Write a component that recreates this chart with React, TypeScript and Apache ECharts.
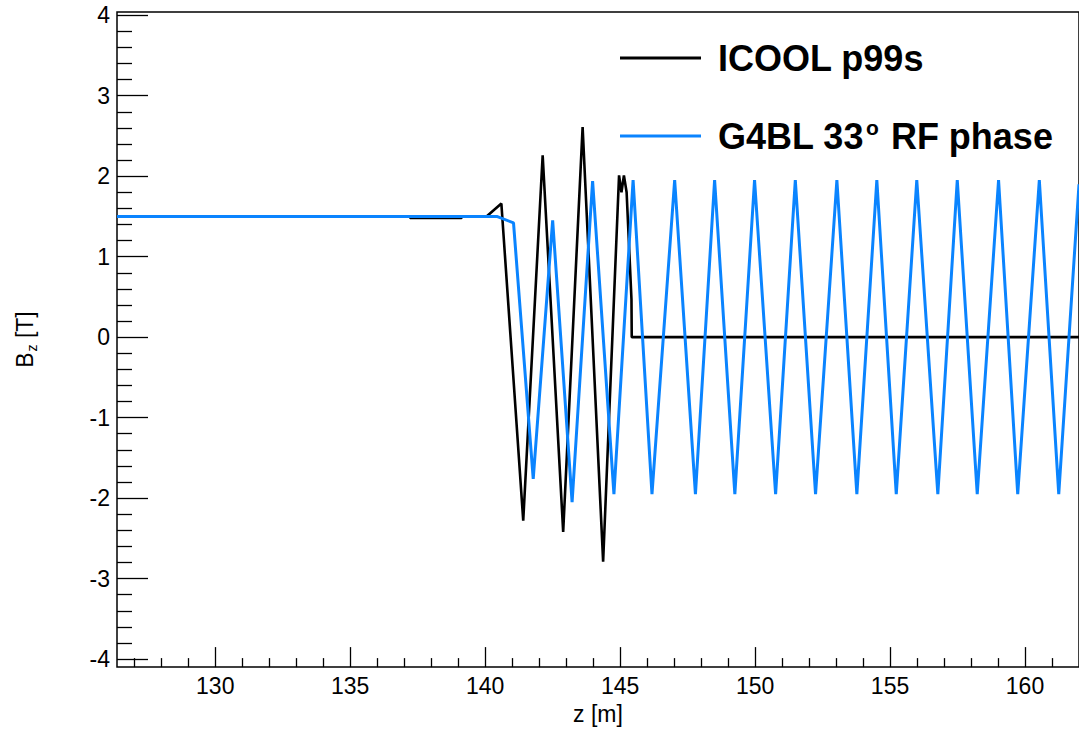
import React, { useEffect, useRef } from "react";
import * as echarts from "echarts";

// Axis ranges and tick positions
const X_MIN = 126.36;
const X_MAX = 162.0;
const Y_MIN = -4.1;
const Y_MAX = 4.04;
const X_MAJOR = [130, 135, 140, 145, 150, 155, 160];
const X_MINOR = [127, 128, 129, 131, 132, 133, 134, 136, 137, 138, 139, 141, 142, 143, 144, 146, 147, 148, 149, 151, 152, 153, 154, 156, 157, 158, 159, 161];
const Y_MAJOR = [-4, -3, -2, -1, 0, 1, 2, 3, 4];
const Y_MINOR = [
  -3.8, -3.6, -3.4, -3.2, -2.8, -2.6, -2.4, -2.2, -1.8, -1.6, -1.4, -1.2, -0.8, -0.6, -0.4, -0.2,
  0.2, 0.4, 0.6, 0.8, 1.2, 1.4, 1.6, 1.8, 2.2, 2.4, 2.6, 2.8, 3.2, 3.4, 3.6, 3.8,
];

// ICOOL p99s (black)
const icoolZ = [126.36, 137.22, 137.22, 139.13, 139.13, 140.05, 140.6, 141.41, 142.13, 142.89, 143.61, 144.37, 144.96, 145.05, 145.14, 145.24, 145.42, 145.43, 162.0];
const icoolBz = [1.5, 1.5, 1.48, 1.48, 1.5, 1.5, 1.66, -2.28, 2.26, -2.42, 2.61, -2.79, 2.01, 1.8, 2.01, 1.8, 0.47, 0.0, 0.0];

// G4BL 33° RF phase (blue)
const g4blZ = [
  126.36, 140.43, 141.05, 141.78, 142.5, 143.22, 143.98, 144.77, 145.48, 146.18, 147.02, 147.79, 148.5,
  149.25, 149.98, 150.76, 151.49, 152.24, 153.03, 153.77, 154.51, 155.23, 155.99, 156.77, 157.49,
  158.23, 159.02, 159.73, 160.53, 161.25, 162.0,
];
const g4blBz = [
  1.5, 1.5, 1.42, -1.76, 1.45, -2.05, 1.94, -1.95, 1.95, -1.95, 1.95, -1.95, 1.95,
  -1.95, 1.95, -1.95, 1.95, -1.95, 1.95, -1.95, 1.95, -1.95, 1.95, -1.95, 1.95,
  -1.95, 1.95, -1.95, 1.95, -1.95, 1.9,
];

const SERIES_A = "ICOOL p99s";
const SERIES_B = "G4BL 33° RF phase";
const FONT = "'Liberation Sans', Arial, Helvetica, sans-serif";
const BLUE = "#0a84ff";

export default function App() {
  const ref = useRef<HTMLDivElement>(null);

  useEffect(() => {
    if (!ref.current) return;
    const chart = echarts.init(ref.current, null, { renderer: "svg" });

    const baseX = {
      type: "value",
      min: X_MIN,
      max: X_MAX,
      gridIndex: 0,
      position: "bottom",
      axisLine: { show: false, onZero: false },
      splitLine: { show: false },
    };
    const baseY = {
      type: "value",
      min: Y_MIN,
      max: Y_MAX,
      gridIndex: 0,
      position: "left",
      axisLine: { show: false, onZero: false },
      splitLine: { show: false },
    };

    const legendText = {
      color: "#000",
      fontFamily: FONT,
      fontWeight: "bold",
      fontSize: 36,
      lineHeight: 40,
      padding: [0, 0, 0, 12],
    };

    const option = {
      animation: false,
      backgroundColor: "#ffffff",
      grid: {
        left: 117,
        top: 12,
        width: 963,
        height: 657,
        show: true,
        borderColor: "#000",
        borderWidth: 1.5,
        backgroundColor: "transparent",
      },
      legend: [
        {
          data: [SERIES_A],
          left: 620,
          top: 38,
          padding: 0,
          icon: "rect",
          itemWidth: 81,
          itemHeight: 3,
          textStyle: legendText,
        },
        {
          data: [SERIES_B],
          left: 620,
          top: 116,
          padding: 0,
          icon: "rect",
          itemWidth: 81,
          itemHeight: 3,
          formatter: () => "{t|G4BL 33}{sup|o}{t| RF phase}",
          textStyle: {
            ...legendText,
            rich: {
              t: { fontFamily: FONT, fontWeight: "bold", fontSize: 36, color: "#000", lineHeight: 40 },
              sup: { fontFamily: FONT, fontWeight: "bold", fontSize: 21, color: "#000", padding: [0, 2, 18, 2] },
            },
          },
        },
      ],
      xAxis: [
        {
          ...baseX,
          name: "z [m]",
          nameLocation: "middle",
          nameGap: 34,
          nameTextStyle: { color: "#000", fontFamily: FONT, fontSize: 23 },
          axisTick: { inside: true, length: 20, customValues: X_MAJOR, lineStyle: { color: "#000", width: 1.3 } },
          axisLabel: { customValues: X_MAJOR, color: "#000", fontFamily: FONT, fontSize: 23, margin: 7 },
        },
        {
          ...baseX,
          axisTick: { inside: true, length: 9, customValues: X_MINOR, lineStyle: { color: "#000", width: 1.3 } },
          axisLabel: { show: false },
        },
      ],
      yAxis: [
        {
          ...baseY,
          name: "B{sub|z} [T]",
          nameLocation: "middle",
          nameGap: 78,
          nameTextStyle: {
            color: "#000",
            fontFamily: FONT,
            fontSize: 23,
            rich: {
              sub: { fontFamily: FONT, fontSize: 14, color: "#000", padding: [14, 0, 0, 1] },
            },
          },
          axisTick: { inside: true, length: 31, customValues: Y_MAJOR, lineStyle: { color: "#000", width: 1.3 } },
          axisLabel: { customValues: Y_MAJOR, color: "#000", fontFamily: FONT, fontSize: 23, margin: 7 },
        },
        {
          ...baseY,
          axisTick: { inside: true, length: 15, customValues: Y_MINOR, lineStyle: { color: "#000", width: 1.3 } },
          axisLabel: { show: false },
        },
      ],
      series: [
        {
          name: SERIES_A,
          type: "line",
          xAxisIndex: 0,
          yAxisIndex: 0,
          data: icoolZ.map((z, i) => [z, icoolBz[i]]),
          symbol: "none",
          showSymbol: false,
          clip: true,
          color: "#000",
          lineStyle: { color: "#000", width: 2.6 },
        },
        {
          name: SERIES_B,
          type: "line",
          xAxisIndex: 0,
          yAxisIndex: 0,
          data: g4blZ.map((z, i) => [z, g4blBz[i]]),
          symbol: "none",
          showSymbol: false,
          clip: true,
          color: BLUE,
          lineStyle: { color: BLUE, width: 3 },
        },
      ],
    };

    chart.setOption(option as any);
    return () => chart.dispose();
  }, []);

  return (
    <div
      ref={ref}
      style={{ position: "absolute", left: 0, top: 0, width: 1079, height: 730, background: "#fff" }}
    />
  );
}
